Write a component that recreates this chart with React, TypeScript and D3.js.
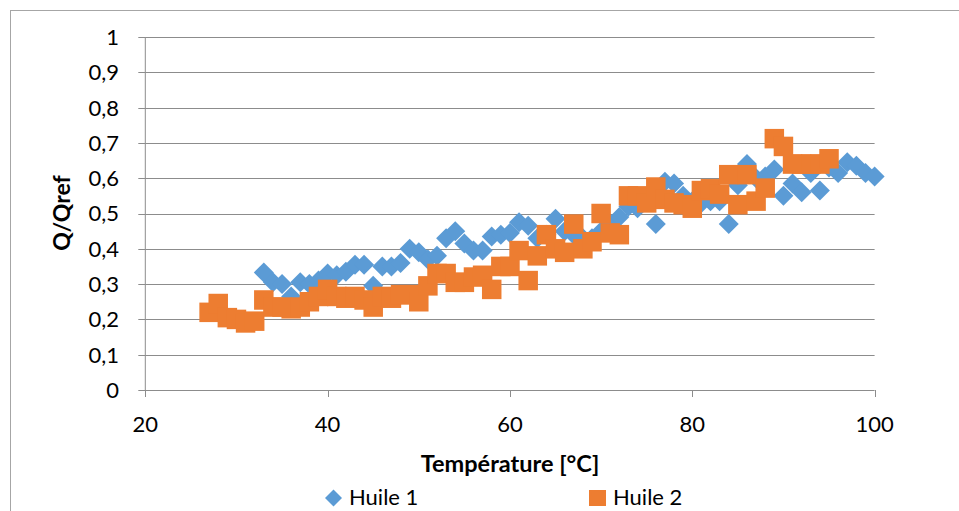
import React from "react";
import * as d3 from "d3";

const xTicks = [20, 40, 60, 80, 100];
const yTicks = [0, 0.1, 0.2, 0.3, 0.4, 0.5, 0.6, 0.7, 0.8, 0.9, 1];

const huile1: [number, number][] = [
  [33, 0.333], [34, 0.305], [35, 0.3], [36, 0.265], [37, 0.305], [38, 0.3], [39, 0.31], [40, 0.33],
  [41, 0.325], [42, 0.335], [43, 0.355], [44, 0.355], [45, 0.295], [46, 0.35], [47, 0.35], [48, 0.36],
  [49, 0.4], [50, 0.39], [51, 0.37], [52, 0.38], [53, 0.43], [54, 0.45], [55, 0.415], [56, 0.395],
  [57, 0.395], [58, 0.435], [59, 0.44], [60, 0.445], [61, 0.475], [62, 0.465], [63, 0.43], [64, 0.44],
  [65, 0.485], [66, 0.45], [67, 0.44], [68, 0.43], [69, 0.43], [70, 0.45], [71, 0.47], [72, 0.49],
  [73, 0.52], [74, 0.515], [75, 0.54], [76, 0.47], [77, 0.59], [78, 0.585], [79, 0.55], [80, 0.535],
  [81, 0.53], [82, 0.535], [83, 0.535], [84, 0.47], [85, 0.58], [86, 0.64], [87, 0.6], [88, 0.605],
  [89, 0.625], [90, 0.55], [91, 0.585], [92, 0.56], [93, 0.615], [94, 0.565], [95, 0.63], [96, 0.615],
  [97, 0.645], [98, 0.635], [99, 0.615], [100, 0.605],
];

const huile2: [number, number][] = [
  [27, 0.22], [28, 0.245], [29, 0.205], [30, 0.2], [31, 0.19], [32, 0.195], [33, 0.255], [34, 0.235],
  [35, 0.235], [36, 0.23], [37, 0.235], [38, 0.25], [39, 0.265], [40, 0.285], [41, 0.265], [42, 0.26],
  [43, 0.265], [44, 0.255], [45, 0.235], [46, 0.265], [47, 0.26], [48, 0.27], [49, 0.27], [50, 0.25],
  [51, 0.295], [52, 0.33], [53, 0.33], [54, 0.305], [55, 0.305], [56, 0.32], [57, 0.325], [58, 0.285],
  [59, 0.35], [60, 0.35], [61, 0.395], [62, 0.31], [63, 0.38], [64, 0.44], [65, 0.4], [66, 0.39],
  [67, 0.47], [68, 0.4], [69, 0.42], [70, 0.5], [71, 0.445], [72, 0.44], [73, 0.55], [74, 0.55],
  [75, 0.53], [76, 0.575], [77, 0.54], [78, 0.53], [79, 0.525], [80, 0.515], [81, 0.565], [82, 0.57],
  [83, 0.555], [84, 0.61], [85, 0.525], [86, 0.61], [87, 0.535], [88, 0.572], [89, 0.712], [90, 0.69],
  [91, 0.64], [92, 0.64], [93, 0.64], [94, 0.64], [95, 0.655],
];

const seriesNames = ["Huile 1", "Huile 2"];
const xTitle = "Température [°C]";
const yTitle = "Q/Qref";

const BLUE = "#5B9BD5";
const ORANGE = "#ED7D31";
const GRID = "#8c8c8c";
const FONT = "Lato, 'Open Sans', sans-serif";

export default function App() {
  const x = d3.scaleLinear().domain([20, 100]).range([145.3, 874.6]);
  const y = d3.scaleLinear().domain([0, 1]).range([390, 37]);
  const fmt = (v: number) => d3.format(".1f")(v).replace(".", ",").replace(/^0,0$/, "0").replace(/^1,0$/, "1");
  const r = 10;
  const diamond = (cx: number, cy: number, rr: number) =>
    `M${cx},${cy - rr}L${cx + rr},${cy}L${cx},${cy + rr}L${cx - rr},${cy}Z`;
  const sq = 19.5;

  return (
    <svg
      width={959}
      height={511}
      style={{ position: "absolute", left: 0, top: 0, background: "#fff" }}
      fontFamily={FONT}
    >
      <rect x={0} y={0} width={959} height={511} fill="#fff" />
      <rect x={10.5} y={10.5} width={1000} height={600} fill="none" stroke="#a6a6a6" strokeWidth={1} />
      {yTicks.filter((t) => t > 0).map((t) => (
        <line key={"g" + t} x1={x(20)} x2={x(100)} y1={Math.round(y(t)) + 0.5} y2={Math.round(y(t)) + 0.5} stroke={GRID} strokeWidth={1} />
      ))}
      <line x1={x(20)} x2={x(20)} y1={y(1)} y2={y(0)} stroke={GRID} />
      {yTicks.map((t) => (
        <line key={"yt" + t} x1={x(20) - 7} x2={x(20)} y1={Math.round(y(t)) + 0.5} y2={Math.round(y(t)) + 0.5} stroke={GRID} />
      ))}
      <line x1={x(20)} x2={x(100)} y1={390.5} y2={390.5} stroke={GRID} />
      {xTicks.map((t) => (
        <line key={"xt" + t} x1={Math.round(x(t)) + 0.5} x2={Math.round(x(t)) + 0.5} y1={390} y2={397} stroke={GRID} />
      ))}
      {yTicks.map((t) => (
        <text key={"yl" + t} x={119} y={y(t)} dy="0.36em" textAnchor="end" fontSize={22} fill="#000">
          {fmt(t)}
        </text>
      ))}
      {xTicks.map((t) => (
        <text key={"xl" + t} x={x(t)} y={432} textAnchor="middle" fontSize={22} fill="#000">
          {t}
        </text>
      ))}
      <text x={510} y={472} textAnchor="middle" fontSize={23.5} fontWeight="bold" fill="#000">
        {xTitle}
      </text>
      <text transform="translate(70,213) rotate(-90)" textAnchor="middle" fontSize={23} fontWeight="bold" fill="#000">
        {yTitle}
      </text>
      <g>
        {huile1.map(([a, b], i) => (
          <path key={"b" + i} d={diamond(x(a), y(b), r)} fill={BLUE} />
        ))}
      </g>
      <g>
        {huile2.map(([a, b], i) => (
          <rect key={"o" + i} x={x(a) - sq / 2} y={y(b) - sq / 2} width={sq} height={sq} fill={ORANGE} />
        ))}
      </g>
      <path d={diamond(333.5, 498, 8.5)} fill={BLUE} />
      <text x={349} y={505} fontSize={22} fill="#000">{seriesNames[0]}</text>
      <rect x={589} y={490} width={17} height={16} fill={ORANGE} />
      <text x={613} y={505} fontSize={22} fill="#000">{seriesNames[1]}</text>
    </svg>
  );
}
